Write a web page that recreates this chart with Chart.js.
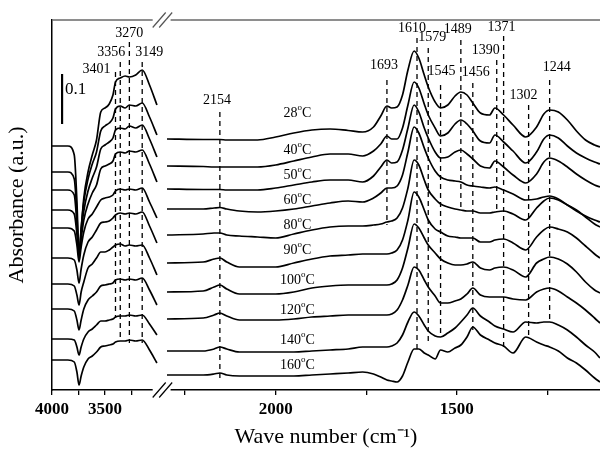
<!DOCTYPE html>
<html>
<head>
<meta charset="utf-8">
<script src="https://cdn.jsdelivr.net/npm/chart.js@4.4.0/dist/chart.umd.min.js"></script>
<style>
  html, body { margin: 0; padding: 0; background: #fff; }
</style>
</head>
<body>
<canvas id="chart_1" width="600" height="450"></canvas>
<script>
const temperatures = ['28', '40', '50', '60', '80', '90', '100', '120', '140', '160'];

// wave numbers (cm-1) of the two panels of the broken axis
const wnHigh = [4000, 3850, 3790, 3765, 3745, 3725, 3700, 3660, 3620, 3580, 3540, 3500, 3460, 3425, 3401, 3356, 3310, 3270, 3210, 3149, 3080, 3010];
const wnLow = [2300, 2200, 2170, 2154, 2135, 2100, 2050, 2000, 1950, 1900, 1850, 1800, 1760, 1730, 1710, 1693, 1680, 1665, 1650, 1635, 1618, 1605, 1590, 1579, 1560, 1545, 1525, 1505, 1489, 1472, 1456, 1435, 1410, 1395, 1371, 1345, 1310, 1280, 1260, 1244, 1220, 1195, 1170, 1145, 1120, 1105];

// stacked absorbance, high wave number panel
const hi28 = [0.488, 0.488, 0.470, 0.378, 0.270, 0.320, 0.384, 0.436, 0.470, 0.500, 0.556, 0.564, 0.572, 0.590, 0.616, 0.624, 0.628, 0.626, 0.630, 0.640, 0.610, 0.570];
const hi40 = [0.436, 0.436, 0.422, 0.352, 0.268, 0.324, 0.376, 0.422, 0.452, 0.476, 0.518, 0.528, 0.534, 0.544, 0.562, 0.568, 0.564, 0.570, 0.568, 0.574, 0.546, 0.510];
const hi50 = [0.400, 0.400, 0.390, 0.332, 0.266, 0.314, 0.358, 0.398, 0.424, 0.446, 0.482, 0.490, 0.496, 0.504, 0.520, 0.524, 0.522, 0.528, 0.524, 0.530, 0.502, 0.466];
const hi60 = [0.360, 0.360, 0.352, 0.312, 0.264, 0.302, 0.340, 0.372, 0.394, 0.410, 0.442, 0.448, 0.452, 0.458, 0.472, 0.476, 0.474, 0.478, 0.476, 0.480, 0.452, 0.416];
const hi80 = [0.324, 0.324, 0.318, 0.290, 0.256, 0.286, 0.316, 0.342, 0.352, 0.366, 0.380, 0.384, 0.386, 0.390, 0.398, 0.402, 0.400, 0.402, 0.400, 0.404, 0.376, 0.344];
const hi90 = [0.264, 0.264, 0.260, 0.240, 0.214, 0.242, 0.270, 0.296, 0.306, 0.320, 0.334, 0.336, 0.338, 0.344, 0.350, 0.354, 0.352, 0.354, 0.352, 0.356, 0.328, 0.294];
const hi100 = [0.212, 0.212, 0.208, 0.190, 0.170, 0.196, 0.216, 0.244, 0.252, 0.264, 0.276, 0.276, 0.280, 0.286, 0.290, 0.292, 0.288, 0.290, 0.288, 0.290, 0.264, 0.230];
const hi120 = [0.162, 0.162, 0.158, 0.140, 0.120, 0.140, 0.162, 0.180, 0.188, 0.196, 0.208, 0.210, 0.212, 0.214, 0.220, 0.222, 0.220, 0.222, 0.220, 0.224, 0.200, 0.170];
const hi140 = [0.102, 0.102, 0.100, 0.086, 0.070, 0.086, 0.102, 0.116, 0.122, 0.130, 0.138, 0.138, 0.140, 0.142, 0.146, 0.148, 0.148, 0.150, 0.148, 0.150, 0.132, 0.110];
const hi160 = [0.060, 0.060, 0.056, 0.036, 0.010, 0.028, 0.046, 0.062, 0.068, 0.076, 0.086, 0.088, 0.090, 0.092, 0.096, 0.098, 0.098, 0.100, 0.098, 0.100, 0.080, 0.054];

// stacked absorbance, low wave number panel
const lo28 = [0.502, 0.501, 0.501, 0.501, 0.500, 0.500, 0.500, 0.506, 0.514, 0.520, 0.522, 0.519, 0.516, 0.526, 0.548, 0.568, 0.564, 0.566, 0.590, 0.640, 0.678, 0.664, 0.630, 0.606, 0.576, 0.564, 0.570, 0.588, 0.596, 0.590, 0.574, 0.554, 0.550, 0.564, 0.550, 0.530, 0.506, 0.526, 0.552, 0.560, 0.556, 0.540, 0.518, 0.500, 0.490, 0.486];
const lo40 = [0.448, 0.447, 0.446, 0.446, 0.446, 0.446, 0.446, 0.450, 0.458, 0.466, 0.472, 0.472, 0.468, 0.478, 0.492, 0.508, 0.502, 0.502, 0.524, 0.570, 0.616, 0.604, 0.572, 0.550, 0.524, 0.508, 0.514, 0.532, 0.540, 0.532, 0.518, 0.498, 0.494, 0.510, 0.496, 0.478, 0.454, 0.476, 0.502, 0.510, 0.504, 0.488, 0.474, 0.464, 0.456, 0.452];
const lo50 = [0.402, 0.401, 0.401, 0.401, 0.400, 0.400, 0.400, 0.404, 0.410, 0.416, 0.420, 0.420, 0.416, 0.428, 0.446, 0.460, 0.454, 0.456, 0.480, 0.524, 0.570, 0.556, 0.524, 0.504, 0.476, 0.464, 0.466, 0.476, 0.480, 0.472, 0.462, 0.448, 0.444, 0.458, 0.446, 0.430, 0.414, 0.432, 0.456, 0.464, 0.458, 0.446, 0.432, 0.420, 0.410, 0.406];
const lo60 = [0.362, 0.362, 0.364, 0.365, 0.362, 0.358, 0.356, 0.358, 0.362, 0.368, 0.374, 0.378, 0.376, 0.384, 0.394, 0.404, 0.404, 0.408, 0.430, 0.476, 0.526, 0.514, 0.484, 0.464, 0.438, 0.426, 0.420, 0.418, 0.416, 0.410, 0.408, 0.406, 0.404, 0.406, 0.400, 0.392, 0.380, 0.382, 0.386, 0.388, 0.382, 0.370, 0.358, 0.348, 0.340, 0.336];
const lo80 = [0.310, 0.312, 0.314, 0.314, 0.310, 0.308, 0.306, 0.304, 0.312, 0.320, 0.326, 0.328, 0.328, 0.330, 0.332, 0.336, 0.338, 0.344, 0.364, 0.404, 0.460, 0.450, 0.420, 0.400, 0.382, 0.372, 0.366, 0.362, 0.360, 0.358, 0.358, 0.354, 0.354, 0.356, 0.358, 0.352, 0.340, 0.364, 0.378, 0.384, 0.380, 0.370, 0.360, 0.346, 0.332, 0.326];
const lo90 = [0.254, 0.256, 0.262, 0.264, 0.256, 0.246, 0.246, 0.246, 0.254, 0.262, 0.268, 0.270, 0.272, 0.272, 0.272, 0.272, 0.274, 0.280, 0.300, 0.340, 0.396, 0.386, 0.360, 0.340, 0.322, 0.316, 0.308, 0.306, 0.304, 0.304, 0.304, 0.296, 0.296, 0.300, 0.302, 0.294, 0.280, 0.306, 0.320, 0.326, 0.322, 0.316, 0.304, 0.288, 0.272, 0.264];
const lo100 = [0.196, 0.198, 0.206, 0.210, 0.202, 0.192, 0.192, 0.192, 0.196, 0.204, 0.208, 0.210, 0.210, 0.210, 0.210, 0.210, 0.212, 0.220, 0.244, 0.284, 0.332, 0.324, 0.304, 0.290, 0.274, 0.262, 0.254, 0.250, 0.250, 0.252, 0.256, 0.244, 0.240, 0.244, 0.246, 0.240, 0.226, 0.254, 0.262, 0.266, 0.262, 0.252, 0.236, 0.216, 0.200, 0.194];
const lo120 = [0.142, 0.144, 0.150, 0.154, 0.148, 0.140, 0.140, 0.140, 0.142, 0.146, 0.148, 0.150, 0.150, 0.150, 0.150, 0.150, 0.152, 0.160, 0.180, 0.210, 0.246, 0.240, 0.220, 0.206, 0.188, 0.174, 0.174, 0.178, 0.182, 0.192, 0.204, 0.190, 0.186, 0.186, 0.186, 0.182, 0.180, 0.196, 0.202, 0.204, 0.198, 0.186, 0.174, 0.160, 0.144, 0.134];
const lo140 = [0.078, 0.078, 0.082, 0.086, 0.082, 0.076, 0.076, 0.076, 0.076, 0.078, 0.080, 0.082, 0.086, 0.086, 0.086, 0.086, 0.088, 0.094, 0.110, 0.136, 0.156, 0.148, 0.130, 0.118, 0.108, 0.106, 0.114, 0.124, 0.136, 0.150, 0.164, 0.148, 0.136, 0.128, 0.122, 0.116, 0.136, 0.134, 0.136, 0.136, 0.130, 0.120, 0.106, 0.090, 0.076, 0.064];
const lo160 = [0.030, 0.030, 0.032, 0.034, 0.030, 0.028, 0.028, 0.028, 0.028, 0.030, 0.032, 0.034, 0.036, 0.032, 0.026, 0.020, 0.018, 0.016, 0.028, 0.056, 0.082, 0.082, 0.074, 0.070, 0.062, 0.080, 0.076, 0.084, 0.090, 0.106, 0.126, 0.110, 0.100, 0.094, 0.088, 0.074, 0.106, 0.096, 0.090, 0.086, 0.078, 0.064, 0.054, 0.040, 0.024, 0.016];

const hiSets = [hi28, hi40, hi50, hi60, hi80, hi90, hi100, hi120, hi140, hi160];
const loSets = [lo28, lo40, lo50, lo60, lo80, lo90, lo100, lo120, lo140, lo160];

// marked bands: dashed line from top to bottom absorbance, label above
const peakWn = [3401, 3356, 3270, 3149, 2154, 1693, 1610, 1579, 1545, 1489, 1456, 1390, 1371, 1302, 1244];
const peakTop = [0.636, 0.656, 0.696, 0.656, 0.556, 0.620, 0.704, 0.684, 0.610, 0.700, 0.614, 0.660, 0.708, 0.570, 0.620];
const peakBottom = [0.144, 0.100, 0.094, 0.094, 0.020, 0.330, 0.080, 0.090, 0.106, 0.366, 0.120, 0.354, 0.086, 0.106, 0.140];
const peakLabelY = [0.642, 0.676, 0.714, 0.676, 0.580, 0.650, 0.724, 0.706, 0.638, 0.722, 0.636, 0.680, 0.726, 0.590, 0.646];
const peakLabelShift = [-19, -9, 0, 7, -3, -3, -5, 4, 1, -3, 3, -11, -2, -5, 7];

const tempLabelWn = 1940;
const tempLabelY = [0.554, 0.480, 0.430, 0.380, 0.330, 0.280, 0.220, 0.160, 0.100, 0.050];

const tickWn = [4000, 3750, 3500, 3250, 2250, 2000, 1750, 1500, 1250];
const tickText = ['4000', '', '3500', '', '', '2000', '', '1500', ''];
const breakWn = [3050, 2290];
const scaleBarWn = 3905;
const scaleBar = [0.532, 0.632];

// broken axis: two linear pieces laid side by side
function axisPos(w) {
  return w > 2600 ? (4000 - w) * 0.106 : 223.7 + (2000 - w) * 0.3624;
}

const serif = '"Liberation Serif", "Times New Roman", serif';

const datasets = [];
temperatures.forEach((t, i) => {
  const pts = wnHigh.map((w, k) => ({x: axisPos(w), y: hiSets[i][k]}));
  pts.push({x: axisPos(2700), y: null});
  wnLow.forEach((w, k) => pts.push({x: axisPos(w), y: loSets[i][k]}));
  datasets.push({
    label: t + ' °C',
    data: pts,
    borderColor: '#000',
    borderWidth: 1.7,
    pointRadius: 0,
    cubicInterpolationMode: 'monotone',
    spanGaps: false
  });
});
peakWn.forEach((w, i) => {
  datasets.push({
    label: 'band ' + w,
    data: [{x: axisPos(w), y: peakTop[i]}, {x: axisPos(w), y: peakBottom[i]}],
    borderColor: '#000',
    borderWidth: 1.3,
    borderDash: [5, 4],
    pointRadius: 0
  });
});
datasets.push({
  label: 'scale',
  data: [{x: axisPos(scaleBarWn), y: scaleBar[0]}, {x: axisPos(scaleBarWn), y: scaleBar[1]}],
  borderColor: '#000',
  borderWidth: 2.2,
  pointRadius: 0
});

const decor = {
  id: 'decor',
  afterDraw(chart) {
    const {ctx, chartArea: area} = chart;
    const xs = chart.scales.x, ys = chart.scales.y;
    const gL = xs.getPixelForValue(axisPos(breakWn[0]));
    const gR = xs.getPixelForValue(axisPos(breakWn[1]));
    ctx.save();
    // open the frame at the break
    ctx.fillStyle = '#fff';
    ctx.fillRect(gL, area.bottom - 3, gR - gL, 6);
    ctx.strokeStyle = '#6a6a6a';
    ctx.lineWidth = 1.6;
    ctx.beginPath();
    ctx.moveTo(area.left, area.top); ctx.lineTo(gL, area.top);
    ctx.moveTo(gR, area.top); ctx.lineTo(area.right, area.top);
    ctx.stroke();
    [[area.top, '#555'], [area.bottom, '#000']].forEach(([yy, col]) => {
      ctx.strokeStyle = col;
      ctx.lineWidth = 1.2;
      [0, 6.5].forEach(dx => {
        ctx.beginPath();
        ctx.moveTo(gL + dx, yy + 7.5);
        ctx.lineTo(gL + dx + 13, yy - 7.5);
        ctx.stroke();
      });
    });

    ctx.fillStyle = '#000';
    ctx.textBaseline = 'middle';
    ctx.textAlign = 'center';
    ctx.font = '14px ' + serif;
    peakWn.forEach((w, i) => {
      ctx.fillText(String(w), xs.getPixelForValue(axisPos(w)) + peakLabelShift[i], ys.getPixelForValue(peakLabelY[i]));
    });

    // temperature labels with raised "o"
    ctx.textAlign = 'left';
    temperatures.forEach((t, i) => {
      const cx = xs.getPixelForValue(axisPos(tempLabelWn));
      const cy = ys.getPixelForValue(tempLabelY[i]);
      ctx.font = '14px ' + serif;
      const wNum = ctx.measureText(t).width;
      const wC = ctx.measureText('C').width;
      ctx.font = '9px ' + serif;
      const wO = ctx.measureText('o').width;
      const sx = cx - (wNum + wO + wC) / 2;
      ctx.font = '14px ' + serif;
      ctx.fillText(t, sx, cy);
      ctx.fillText('C', sx + wNum + wO, cy);
      ctx.font = '9px ' + serif;
      ctx.fillText('o', sx + wNum, cy - 5);
    });

    ctx.font = '17px ' + serif;
    ctx.fillText('0.1', xs.getPixelForValue(axisPos(scaleBarWn)) + 3, ys.getPixelForValue(0.6));
    ctx.restore();
  }
};

new Chart(document.getElementById('chart_1'), {
  type: 'line',
  data: {datasets: datasets},
  options: {
    responsive: false,
    animation: false,
    devicePixelRatio: 1,
    layout: {padding: {top: 20, left: 0, right: 0, bottom: 0}},
    plugins: {legend: {display: false}, tooltip: {enabled: false}},
    scales: {
      x: {
        type: 'linear',
        min: 0,
        max: axisPos(1105),
        afterBuildTicks: (scale) => { scale.ticks = tickWn.map(w => ({value: axisPos(w)})); },
        afterFit: (scale) => { scale.height = 60; },
        ticks: {
          autoSkip: false,
          maxRotation: 0,
          padding: 4,
          color: '#000',
          font: {family: serif, size: 17, weight: 'bold'},
          callback: (v, i) => tickText[i]
        },
        grid: {display: true, drawOnChartArea: false, drawTicks: true, tickLength: 5, color: '#000', lineWidth: 1.3},
        border: {display: true, color: '#000', width: 1.5},
        title: {display: true, text: 'Wave number (cm⁻¹)', color: '#000', font: {family: serif, size: 22}, padding: {top: 0, bottom: 0}}
      },
      y: {
        type: 'linear',
        min: 0,
        max: 0.74,
        afterFit: (scale) => { scale.width = 52; },
        ticks: {display: false},
        grid: {display: false},
        border: {display: true, color: '#000', width: 1.5},
        title: {display: true, text: 'Absorbance (a.u.)', color: '#000', font: {family: serif, size: 22}, padding: {top: 4, bottom: 0}}
      }
    }
  },
  plugins: [decor]
});
</script>
</body>
</html>
